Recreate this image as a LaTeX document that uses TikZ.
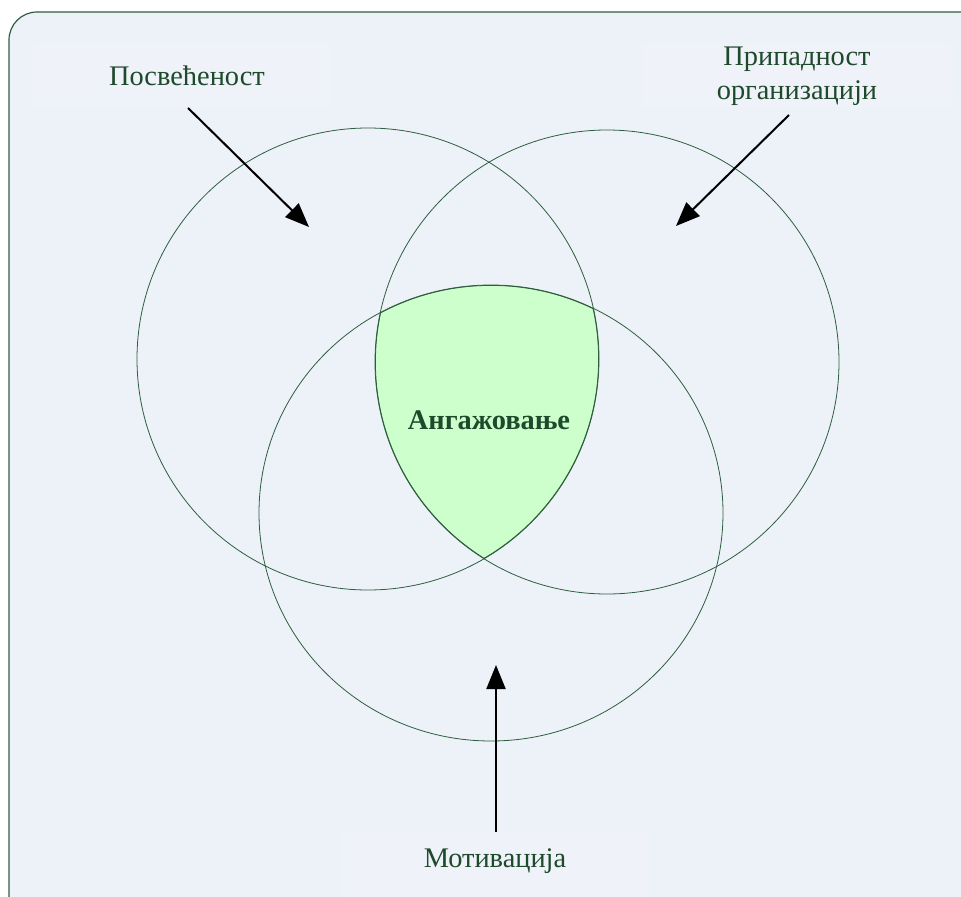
\documentclass[tikz,border=0pt]{standalone}
\usepackage{fontspec}
\setmainfont{Liberation Serif}
\usetikzlibrary{arrows.meta}
\definecolor{panel}{HTML}{EDF1F8}
\definecolor{labelbg}{HTML}{EFF2F9}
\definecolor{rim}{HTML}{2E5E3E}
\definecolor{ink}{HTML}{1E4A2C}
\definecolor{core}{HTML}{CCFFCC}
\tikzset{
  ring/.style={draw=rim, line width=0.8bp},
  lbl/.style={text=ink, font=\fontsize{28.5}{34}\selectfont, align=center},
  pointer/.style={draw=black, line width=2bp, -{Triangle[length=24bp,width=19bp]}},
}
\begin{document}
\begin{tikzpicture}[x=1bp,y=-1bp]
  \useasboundingbox (0,0) rectangle (961,897);
  \begin{scope}
    \clip (0,0) rectangle (961,897);
    % background panel, running off the right and bottom edges
    \draw[draw=rim, fill=panel, line width=1.2bp, rounded corners=28bp] (9,12) rectangle (990,925);
    % label backdrops
    \fill[labelbg] (33,43) rectangle (330,107);
    \fill[labelbg] (642,43) rectangle (951,107);
    \fill[labelbg] (342,832) rectangle (648,897);
  \end{scope}
  % circle centres
  \coordinate (cl) at (368,359);
  \coordinate (cr) at (607,362);
  \coordinate (cb) at (491,513);
  % shared region of the three circles
  \begin{scope}
    \clip (cl) circle (231);
    \clip (cr) circle (232);
    \clip (cb) ellipse [x radius=232, y radius=228];
    \fill[core] (cb) ellipse [x radius=232, y radius=228];
    \draw[rim, line width=1.6bp] (cb) ellipse [x radius=232, y radius=228];
    \draw[rim, line width=1.6bp] (cl) circle (231);
    \draw[rim, line width=1.6bp] (cr) circle (232);
  \end{scope}
  \draw[ring] (cl) circle (231);
  \draw[ring] (cr) circle (232);
  \draw[ring] (cb) ellipse [x radius=232, y radius=228];
  % labels
  \node[lbl] (posv) at (187,76) {Посвећеност};
  \node[lbl] (prip) at (797,76) {Припадност\\организацији};
  \node[lbl] (motiv) at (495,861) {Мотивација};
  \node[lbl, font=\bfseries\fontsize{28.5}{34}\selectfont] (ang) at (489,420) {Ангажовање};
  % arrow ends
  \coordinate (tl) at (309,227);
  \coordinate (tr) at (676,226);
  \coordinate (tb) at (496,665);
  \coordinate (sl) at (188,108);
  \coordinate (sr) at (789,115);
  \coordinate (sb) at (496,832);
  \draw[pointer] (sl) -- (tl);
  \draw[pointer] (sr) -- (tr);
  \draw[pointer] (sb) -- (tb);
\end{tikzpicture}
\end{document}
